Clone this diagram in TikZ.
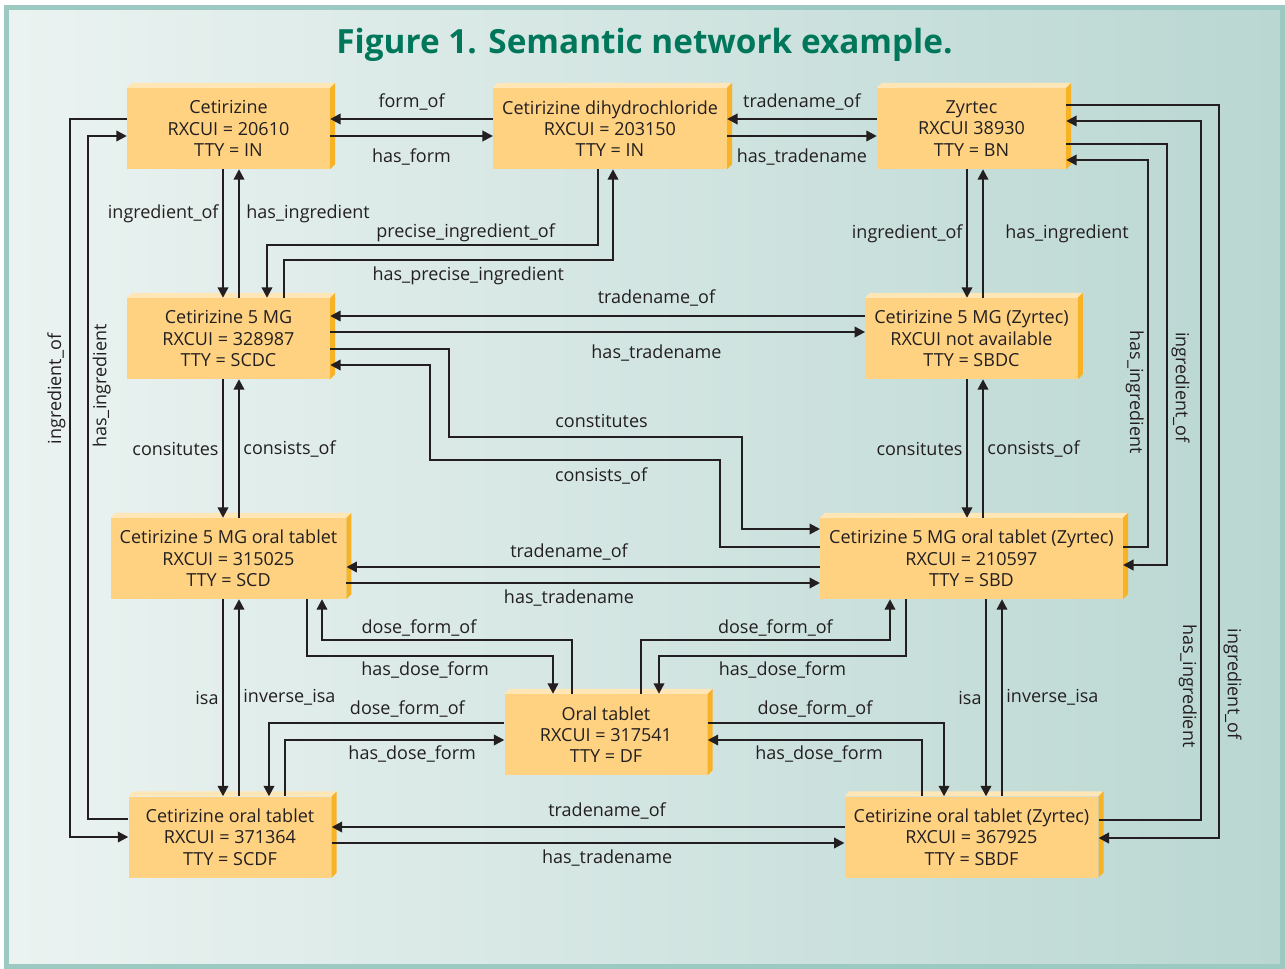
\documentclass[tikz,border=0pt]{standalone}
\usepackage{fontspec}
\setmainfont{Open Sans}
\usetikzlibrary{arrows.meta}
\definecolor{ink}{HTML}{231F20}
\definecolor{boxfront}{HTML}{FFD282}
\definecolor{boxtop}{HTML}{FFE6B6}
\definecolor{boxside}{HTML}{F8B226}
\definecolor{bgleft}{HTML}{EBF3F1}
\definecolor{bgright}{HTML}{BAD7D2}
\definecolor{framecol}{HTML}{9CC9C2}
\definecolor{titlegreen}{HTML}{00775B}
\tikzstyle{concept} = [rectangle, minimum width=203pt, minimum height=81pt, inner xsep=9pt, text centered, align=center, fill=boxfront, text=ink]
\tikzstyle{arrow} = [line width=2.2pt, draw=ink, -{Triangle[length=10.5pt,width=10.5pt]}]
\tikzstyle{lbl} = [text=ink]

\begin{document}
\begin{tikzpicture}[x=1pt, y=1pt, node distance=210pt, font=\fontsize{18}{21.3}\selectfont]
        \useasboundingbox (0,0) rectangle (1285,-969);
        \fill [white] (0,0) rectangle (1285,-969);
        \shade [left color=bgleft, right color=bgright] (6.5,-7.5) rectangle (1282.5,-966.5);
        \draw [framecol, line width=5pt] (6.5,-7.5) rectangle (1282.5,-966.5);

        \node (title) [anchor=base, text=titlegreen, font=\bfseries\fontsize{33.3}{38}\selectfont] at (644.5,-53) {Figure 1. Semantic network example.};

        \node (cet) [concept] at (228.5,-128.5) {Cetirizine \\ RXCUI = 20610 \\ TTY = IN};
        
        \node (dihy) [concept, right of=cet, xshift=171.5pt] {Cetirizine dihydrochloride \\ RXCUI = 203150 \\ TTY = IN};
        
        \node (zyr) [concept, minimum width=189pt, right of=dihy, xshift=151.5pt] {Zyrtec \\ RXCUI 38930 \\ TTY = BN};
        
        \node (mg) [concept, below of=cet] {Cetirizine 5 MG \\ RXCUI = 328987 \\ TTY = SCDC};
        
        \node (mgz) [concept, below of=zyr] {Cetirizine 5 MG (Zyrtec) \\ RXCUI not available \\ TTY = SBDC};
        
        \node (scd) [concept, below of=mg, yshift=-10pt] {Cetirizine 5 MG oral tablet \\ RXCUI = 315025 \\ TTY = SCD};
        
        \node (sbd) [concept, below of=mgz, yshift=-10pt] {Cetirizine 5 MG oral tablet (Zyrtec) \\ RXCUI = 210597 \\ TTY = SBD};

        \node (oral) [concept, right of=scd, xshift=167.5pt, yshift=-176pt] {Oral tablet \\ RXCUI = 317541 \\ TTY = DF};
        
        \node (scdf) [concept, below of=scd, yshift=-68.5pt, xshift=1.5pt] {Cetirizine oral tablet \\ RXCUI = 371364 \\ TTY = SCDF};
        
        \node (sbdf) [concept, below of=sbd, yshift=-68.5pt] {Cetirizine oral tablet (Zyrtec) \\ RXCUI = 367925 \\ TTY = SBDF};

        % bevels of the boxes
        \foreach \n in {cet,dihy,zyr,mg,mgz,scd,sbd,oral,scdf,sbdf} {
            \fill [boxtop] (\n.north west) -- ++(5,5) -- ([shift={(5,5)}]\n.north east) -- (\n.north east) -- cycle;
            \fill [boxside] (\n.north east) -- ++(5,5) -- ([shift={(5,5)}]\n.south east) -- (\n.south east) -- cycle;
        }

        % top row
        \draw [arrow] ([yshift=9.5pt]dihy.west) -- node[lbl, above=4pt] {form\_of} ([yshift=9.5pt]cet.east);
        \draw [arrow] ([yshift=-7.5pt]cet.east) -- node[lbl, below=8pt] {has\_form} ([yshift=-7.5pt]dihy.west);
        \draw [arrow] ([yshift=9.5pt]zyr.west) -- node[lbl, above=4pt] {tradename\_of} ([yshift=9.5pt]dihy.east);
        \draw [arrow] ([yshift=-7.5pt]dihy.east) -- node[lbl, below=8pt] {has\_tradename} ([yshift=-7.5pt]zyr.west);

        % ingredients
        \draw [arrow] ([xshift=-5.5pt]cet.south) -- node[lbl, left, pos=0.35] {ingredient\_of} ([xshift=-5.5pt]mg.north);
        \draw [arrow] ([xshift=10.5pt]mg.north) -- node[lbl, right=3pt, pos=0.65] {has\_ingredient} ([xshift=10.5pt]cet.south);
        \draw [arrow] ([xshift=-12pt]dihy.south) -- ++(0,-76) -| node[lbl, above=-1pt, pos=0.2] {precise\_ingredient\_of} ([xshift=38.5pt]mg.north);
        \draw [arrow] ([xshift=55.5pt]mg.north) -- ++(0,38) -| node[lbl, below=3pt, pos=0.28] {has\_precise\_ingredient} ([xshift=3pt]dihy.south);
        \draw [arrow] ([xshift=-4.5pt]zyr.south) -- node[lbl, left] {ingredient\_of} ([xshift=-4.5pt]mgz.north);
        \draw [arrow] ([xshift=11.5pt]mgz.north) -- node[lbl, right=18pt] {has\_ingredient} ([xshift=11.5pt]zyr.south);

        % left side
        \draw [arrow] ([yshift=9.5pt]cet.west) -- ++(-57,0) |- node[lbl, anchor=south, rotate=90, pos=0.188] {ingredient\_of} (scdf.west);
        \draw [arrow] ([yshift=18pt]scdf.west) -- ++(-40,0) |- node[lbl, anchor=north, rotate=90, pos=0.317] {has\_ingredient} ([yshift=-7.5pt]cet.west);

        % right side
        \draw [arrow] ([yshift=23.5pt]zyr.east) -- ++(153,0) |- node[lbl, anchor=south, rotate=-90, pos=0.395] {ingredient\_of} ([yshift=-1pt]sbdf.east);
        \draw [arrow] ([yshift=17pt]sbdf.east) -| node[lbl, anchor=north, rotate=-90, pos=0.596] {has\_ingredient} ([xshift=135pt,yshift=7.5pt]zyr.east) -- ([yshift=7.5pt]zyr.east);
        \draw [arrow] ([yshift=-15.5pt]zyr.east) -- ++(101,0) |- node[lbl, anchor=south, rotate=-90, pos=0.289] {ingredient\_of} ([yshift=-6.5pt]sbd.east);
        \draw [arrow] ([yshift=11.5pt]sbd.east) -| node[lbl, anchor=north, rotate=-90, pos=0.70] {has\_ingredient} ([xshift=82pt,yshift=-31.5pt]zyr.east) -- ([yshift=-31.5pt]zyr.east);

        % middle row
        \draw [arrow] ([yshift=22.5pt]mgz.west) -- node[lbl, above=5pt, pos=0.39] {tradename\_of} ([yshift=22.5pt]mg.east);
        \draw [arrow] ([yshift=6.5pt]mg.east) -- node[lbl, below=8pt, pos=0.61] {has\_tradename} ([yshift=6.5pt]mgz.west);
        \draw [arrow] ([yshift=-10.5pt]mg.east) -- ++(119,0) |- node[lbl, above=5pt, pos=0.76] {constitutes} ++(293,-88) |- ([yshift=29.5pt]sbd.west);
        \draw [arrow] ([yshift=11.5pt]sbd.west) -- ++(-100,0) |- node[lbl, below=3pt, pos=0.705] {consists\_of} ++(-290,87) |- ([yshift=-26.5pt]mg.east);
        \draw [arrow] ([xshift=-5.5pt]mg.south) -- node[lbl, left] {consitutes} ([xshift=-5.5pt]scd.north);
        \draw [arrow] ([xshift=10.5pt]scd.north) -- node[lbl, right] {consists\_of} ([xshift=10.5pt]mg.south);
        \draw [arrow] ([xshift=-4.5pt]mgz.south) -- node[lbl, left] {consitutes} ([xshift=-4.5pt]sbd.north);
        \draw [arrow] ([xshift=11.5pt]sbd.north) -- node[lbl, right] {consists\_of} ([xshift=11.5pt]mgz.south);

        % tablets
        \draw [arrow] ([yshift=-8.5pt]sbd.west) -- node[lbl, above=2pt, pos=0.53] {tradename\_of} ([yshift=-8.5pt]scd.east);
        \draw [arrow] ([yshift=-24.5pt]scd.east) -- node[lbl, below=2pt, pos=0.47] {has\_tradename} ([yshift=-24.5pt]sbd.west);
        \draw [arrow] ([xshift=-5.5pt]scd.south) -- node[lbl, left] {isa} ([xshift=-5.5pt]scd.south |- scdf.north);
        \draw [arrow] ([xshift=10.5pt]scd.south |- scdf.north) -- node[lbl, right] {inverse\_isa} ([xshift=10.5pt]scd.south);
        \draw [arrow] ([xshift=14.5pt]sbd.south) -- node[lbl, left] {isa} ([xshift=14.5pt]sbdf.north);
        \draw [arrow] ([xshift=30.5pt]sbdf.north) -- node[lbl, right] {inverse\_isa} ([xshift=30.5pt]sbd.south);

        % dose forms
        \draw [arrow] ([xshift=-34pt]oral.north) -- ++(0,54) -| node[lbl, above=-1pt, pos=0.306] {dose\_form\_of} ([xshift=93.5pt]scd.south);
        \draw [arrow] ([xshift=78.5pt]scd.south) -- ++(0,-57) -| node[lbl, below=1pt, pos=0.24] {has\_dose\_form} ([xshift=-53pt]oral.north);
        \draw [arrow] ([xshift=35pt]oral.north) -- ++(0,54) -| node[lbl, above=-1pt, pos=0.27] {dose\_form\_of} ([xshift=-81.5pt]sbd.south);
        \draw [arrow] ([xshift=-65.5pt]sbd.south) -- ++(0,-57) -| node[lbl, below=1pt, pos=0.25] {has\_dose\_form} ([xshift=53pt]oral.north);
        \draw [arrow] ([yshift=11.5pt]oral.west) -| node[lbl, above=1pt, pos=0.206] {dose\_form\_of} ([xshift=39pt]scdf.north);
        \draw [arrow] ([xshift=55pt]scdf.north) |- node[lbl, below=1pt, pos=0.79] {has\_dose\_form} ([yshift=-5.5pt]oral.west);
        \draw [arrow] ([yshift=11.5pt]oral.east) -| node[lbl, above=1pt, pos=0.227] {dose\_form\_of} ([xshift=-27.5pt]sbdf.north);
        \draw [arrow] ([xshift=-49.5pt]sbdf.north) |- node[lbl, below=1pt, pos=0.74] {has\_dose\_form} ([yshift=-5.5pt]oral.east);

        % bottom row
        \draw [arrow] ([yshift=10pt]sbdf.west) -- node[lbl, above=3pt, pos=0.463] {tradename\_of} ([yshift=10pt]scdf.east);
        \draw [arrow] ([yshift=-6pt]scdf.east) -- node[lbl, below=2pt, pos=0.537] {has\_tradename} ([yshift=-6pt]sbdf.west);

\end{tikzpicture}
\end{document}
